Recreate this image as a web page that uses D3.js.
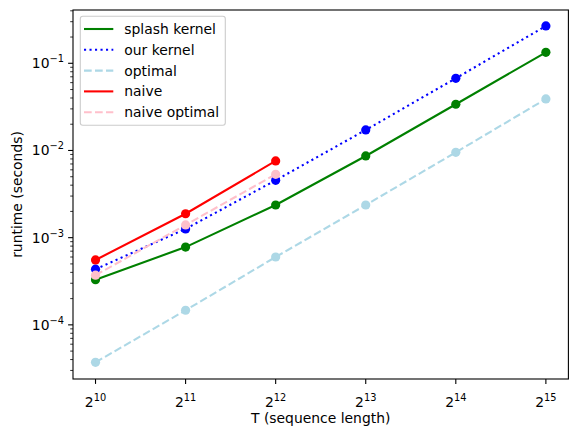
<!DOCTYPE html>
<html>
<head>
<meta charset="utf-8">
<script src="https://cdn.jsdelivr.net/npm/d3@7"></script>
<style>
  body { margin: 0; background: #fff; }
  text { font-family: "DejaVu Sans", sans-serif; fill: #000; }
</style>
</head>
<body>
<svg id="chart" width="578" height="437"></svg>
<script>
// sequence lengths as powers of two
var exps = [10, 11, 12, 13, 14, 15];
var splashKernel = [3.3e-4, 7.8e-4, 2.37e-3, 8.65e-3, 0.0339, 0.1336];
var ourKernel = [4.35e-4, 1.26e-3, 4.55e-3, 0.0172, 0.0673, 0.268];
var optimal = [3.72e-5, 1.47e-4, 6.0e-4, 2.37e-3, 9.52e-3, 0.039];
var naive = [5.55e-4, 1.88e-3, 7.59e-3];
var naiveOptimal = [3.71e-4, 1.40e-3, 5.33e-3];
var yTickExps = [-4, -3, -2, -1];

var series = [
  {name: "splash kernel", vals: splashKernel, color: "green", dash: null},
  {name: "our kernel", vals: ourKernel, color: "blue", dash: "2.1,3.4"},
  {name: "optimal", vals: optimal, color: "lightblue", dash: "7.7,3.3"},
  {name: "naive", vals: naive, color: "red", dash: null},
  {name: "naive optimal", vals: naiveOptimal, color: "pink", dash: "7.7,3.3"}
];

(function() {
  var svg = d3.select("#chart");
  var left = 73, right = 568.4, topY = 10, bottom = 379;

  var x = d3.scaleLog().base(2)
      .domain([Math.pow(2, 9.75), Math.pow(2, 15.25)])
      .range([left, right]);
  var y = d3.scaleLog()
      .domain([Math.pow(10, -4.621), Math.pow(10, -0.3888)])
      .range([bottom, topY]);

  var line = d3.line()
      .x(function(d) { return x(d[0]); })
      .y(function(d) { return y(d[1]); });

  var plot = svg.append("g");
  series.forEach(function(s) {
    var pts = s.vals.map(function(v, i) { return [Math.pow(2, exps[i]), v]; });
    plot.append("path")
        .attr("d", line(pts))
        .attr("fill", "none")
        .attr("stroke", s.color)
        .attr("stroke-width", 2.08)
        .attr("stroke-dasharray", s.dash);
    plot.selectAll(null).data(pts).enter()
        .append("circle")
        .attr("cx", function(d) { return x(d[0]); })
        .attr("cy", function(d) { return y(d[1]); })
        .attr("r", 4.6)
        .attr("fill", s.color);
  });

  // frame
  svg.append("rect")
      .attr("x", left).attr("y", topY)
      .attr("width", right - left).attr("height", bottom - topY)
      .attr("fill", "none").attr("stroke", "#000").attr("stroke-width", 1.1);

  // x ticks
  var xt = svg.append("g");
  exps.forEach(function(e) {
    var px = x(Math.pow(2, e));
    xt.append("line")
        .attr("x1", px).attr("x2", px)
        .attr("y1", bottom).attr("y2", bottom + 4.9)
        .attr("stroke", "#000").attr("stroke-width", 1.1);
    var t = xt.append("text")
        .attr("x", px).attr("y", 407)
        .attr("text-anchor", "middle")
        .attr("font-size", "13.9px");
    t.append("tspan").text("2");
    t.append("tspan").attr("dy", -6).attr("font-size", "9.8px").text(e);
  });

  // y ticks, major and minor
  var yt = svg.append("g");
  for (var d = -5; d <= 0; d++) {
    for (var m = 1; m < 10; m++) {
      var v = m * Math.pow(10, d);
      if (v < y.domain()[0] || v > y.domain()[1]) continue;
      var py = y(v);
      var major = m == 1;
      yt.append("line")
          .attr("x1", left).attr("x2", left - (major ? 4.9 : 2.8))
          .attr("y1", py).attr("y2", py)
          .attr("stroke", "#000").attr("stroke-width", major ? 1.1 : 0.8);
    }
  }
  yTickExps.forEach(function(e) {
    var py = y(Math.pow(10, e));
    var t = yt.append("text")
        .attr("x", 64).attr("y", py + 5)
        .attr("text-anchor", "end")
        .attr("font-size", "13.9px");
    t.append("tspan").text("10");
    t.append("tspan").attr("dy", -6).attr("font-size", "9.8px").text("\u2212" + (-e));
  });

  // axis labels
  svg.append("text")
      .attr("x", (left + right) / 2).attr("y", 423)
      .attr("text-anchor", "middle")
      .attr("font-size", "13.9px")
      .text("T (sequence length)");
  svg.append("text")
      .attr("transform", "translate(22," + ((topY + bottom) / 2) + ") rotate(-90)")
      .attr("text-anchor", "middle")
      .attr("font-size", "13.9px")
      .text("runtime (seconds)");

  // legend
  var lg = svg.append("g");
  lg.append("rect")
      .attr("x", 80.3).attr("y", 16.3)
      .attr("width", 145).attr("height", 109)
      .attr("rx", 2.5)
      .attr("fill", "#fff").attr("fill-opacity", 0.8)
      .attr("stroke", "#ccc").attr("stroke-width", 1.1);
  series.forEach(function(s, i) {
    var ly = 29 + i * 20.8;
    lg.append("line")
        .attr("x1", 84).attr("x2", 113.3)
        .attr("y1", ly).attr("y2", ly)
        .attr("stroke", s.color)
        .attr("stroke-width", 2.08)
        .attr("stroke-dasharray", s.dash);
    lg.append("text")
        .attr("x", 124.3).attr("y", ly + 5)
        .attr("font-size", "13.9px")
        .text(s.name);
  });
})();
</script>
</body>
</html>
